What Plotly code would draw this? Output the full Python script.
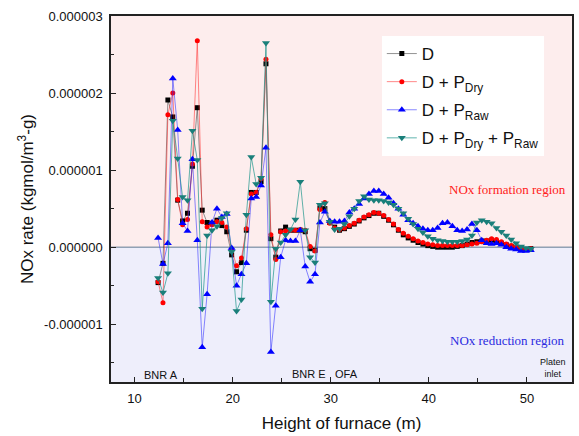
import plotly.graph_objects as go

# Height of furnace (m)
height_m = [12.4, 12.9, 13.4, 13.9, 14.4, 14.9, 15.4, 15.9, 16.4, 16.9,
            17.4, 17.9, 18.4, 18.9, 19.4, 19.9, 20.4, 20.9, 21.4, 21.9,
            22.4, 22.9, 23.4, 23.9, 24.4, 24.9, 25.4, 25.9, 26.4, 26.9,
            27.4, 27.9, 28.4, 28.9, 29.4, 29.9, 30.4, 30.9, 31.4, 31.9,
            32.4, 32.9, 33.4, 33.9, 34.4, 34.9, 35.4, 35.9, 36.4, 36.9,
            37.4, 37.9, 38.4, 38.9, 39.4, 39.9, 40.4, 40.9, 41.4, 41.9,
            42.4, 42.9, 43.4, 43.9, 44.4, 44.9, 45.4, 45.9, 46.4, 46.9,
            47.4, 47.9, 48.4, 48.9, 49.4, 49.9, 50.4]

# NOx rate values in units of 1e-6 kgmol/m3-g
D_e6 = [-0.46, -0.21, 1.91, 1.69, 0.61, 0.34, 0.44, 1.05, 1.81, 0.48,
        0.32, 0.31, 0.35, 0.28, 0.20, -0.10, -0.32, -0.20, 0.22, 0.71,
        0.71, 0.85, 2.38, 0.11, -0.13, 0.21, 0.26, 0.22, 0.22, 0.22,
        0.20, -0.02, -0.04, 0.51, 0.50, 0.32, 0.26, 0.22, 0.24, 0.27,
        0.30, 0.34, 0.38, 0.41, 0.44, 0.44, 0.40, 0.35, 0.29, 0.22,
        0.16, 0.12, 0.09, 0.06, 0.04, 0.02, 0.01, 0.00, 0.00, 0.00,
        0.00, 0.01, 0.02, 0.04, 0.06, 0.07, 0.08, 0.08, 0.09, 0.07,
        0.05, 0.03, 0.01, -0.01, -0.02, -0.03, -0.02]

D_Pdry_e6 = [-0.45, -0.72, 1.72, 2.00, 0.62, 0.29, 0.36, 1.08, 2.68, 0.33,
             0.26, 0.29, 0.33, 0.32, 0.26, -0.03, -0.24, -0.14, 0.24, 0.69,
             0.71, 0.89, 2.44, 0.16, -0.16, 0.20, 0.21, 0.22, 0.22, 0.23,
             0.22, 0.01, -0.05, 0.49, 0.58, 0.31, 0.25, 0.23, 0.25, 0.28,
             0.31, 0.35, 0.39, 0.42, 0.45, 0.44, 0.41, 0.36, 0.30, 0.23,
             0.18, 0.14, 0.11, 0.08, 0.06, 0.04, 0.03, 0.02, 0.02, 0.02,
             0.02, 0.02, 0.02, 0.03, 0.04, 0.05, 0.07, 0.09, 0.11, 0.10,
             0.07, 0.04, 0.02, 0.00, -0.02, -0.03, -0.02]

D_Praw_e6 = [0.12, -0.22, 0.05, 2.19, 1.52, 0.31, 0.21, 1.14, 0.09, -1.30,
             -0.61, 0.32, 0.50, 0.39, 0.43, -0.01, -0.50, -0.35, -0.21, 0.63,
             0.65, 0.80, 1.29, -1.36, -0.76, -0.13, 0.09, 0.08, 0.08, 0.22,
             -0.25, -0.45, -0.35, 0.32, 0.46, 0.34, 0.33, 0.33, 0.34, 0.45,
             0.50, 0.56, 0.63, 0.69, 0.73, 0.73, 0.69, 0.64, 0.57, 0.50,
             0.42, 0.35, 0.31, 0.27, 0.24, 0.22, 0.22, 0.25, 0.31, 0.32,
             0.27, 0.22, 0.21, 0.23, 0.30, 0.22, 0.09, 0.05, 0.04, 0.05,
             0.03, 0.00, -0.02, -0.03, -0.05, -0.05, -0.04]

D_Pdry_Praw_e6 = [-0.40, -0.59, -0.34, 1.64, 1.15, 0.65, 0.61, 1.51, 1.13, -0.80,
                  0.15, 0.22, 0.27, 0.38, 0.44, -0.06, -0.83, -0.68, 0.42, 1.17,
                  0.82, 0.90, 2.65, -0.71, -0.02, 0.06, 0.16, 0.23, 0.36, 0.85,
                  0.22, -0.13, -0.20, 0.55, 0.57, 0.33, 0.23, 0.24, 0.30, 0.40,
                  0.50, 0.60, 0.66, 0.62, 0.61, 0.61, 0.60, 0.58, 0.55, 0.50,
                  0.44, 0.37, 0.30, 0.24, 0.19, 0.14, 0.11, 0.09, 0.08, 0.07,
                  0.07, 0.07, 0.08, 0.10, 0.15, 0.32, 0.35, 0.33, 0.31, 0.25,
                  0.20, 0.15, 0.10, 0.05, 0.01, -0.01, -0.02]

series_names = ["D", "D + P<sub>Dry</sub>", "D + P<sub>Raw</sub>",
                "D + P<sub>Dry</sub> + P<sub>Raw</sub>"]

y_tick_vals = [-1e-6, 0.0, 1e-6, 2e-6, 3e-6]
y_tick_text = ["-0.000001", "0.000000", "0.000001", "0.000002", "0.000003"]
x_tick_vals = [10, 20, 30, 40, 50]

SCALE = 1e-6
series = [
    (series_names[0], D_e6, "#000000", "rgba(60,60,60,0.55)", "square", 5),
    (series_names[1], D_Pdry_e6, "#ff0000", "rgba(255,40,40,0.55)", "circle", 5),
    (series_names[2], D_Praw_e6, "#0000ff", "rgba(40,40,255,0.55)", "triangle-up", 7),
    (series_names[3], D_Pdry_Praw_e6, "#1a7f7a", "rgba(30,150,140,0.7)", "triangle-down", 7),
]

fig = go.Figure()
for i, (name, vals, mcol, lcol, sym, size) in enumerate(series):
    fig.add_trace(go.Scatter(
        x=height_m, y=[v * SCALE for v in vals], name=name, mode="lines+markers",
        legendgroup="g%d" % i,
        line=dict(color=lcol, width=1),
        marker=dict(color=mcol, symbol=sym, size=size, line=dict(width=0)),
    ))

YMIN, YMAX = -1.75e-6, 3.0e-6
fig.add_shape(type="rect", xref="paper", yref="y", x0=0, x1=1, y0=0, y1=YMAX,
              fillcolor="#fdeded", line=dict(width=0), layer="below")
fig.add_shape(type="rect", xref="paper", yref="y", x0=0, x1=1, y0=YMIN, y1=0,
              fillcolor="#eeeefb", line=dict(width=0), layer="below")
fig.add_shape(type="line", xref="paper", yref="y", x0=0, x1=1, y0=0, y1=0,
              line=dict(color="#5f7890", width=1), layer="below")

font_sans = "Arial, Liberation Sans, sans-serif"
font_serif = "Times New Roman, Liberation Serif, serif"

annos = [
    dict(x=509, y=189, text="NOx formation region", color="#ff2020", fam=font_serif, size=13),
    dict(x=509, y=340, text="NOx reduction region", color="#2a2ae0", fam=font_serif, size=13),
    dict(x=161, y=375, text="BNR A", color="#111111", fam=font_sans, size=11),
    dict(x=310, y=374, text="BNR E", color="#111111", fam=font_sans, size=11),
    dict(x=348, y=374, text="OFA", color="#111111", fam=font_sans, size=11),
    dict(x=555, y=368, text="Platen<br>inlet", color="#111111", fam=font_sans, size=9),
]
L, R, T, B = 111, 5, 16, 54
W, H = 579, 436
pw, ph = W - L - R, H - T - B
for a in annos:
    fig.add_annotation(
        xref="paper", yref="paper",
        x=(a["x"] - L) / pw, y=(H - B - a["y"]) / ph,
        text=a["text"], showarrow=False, xanchor="center", yanchor="middle",
        font=dict(family=a["fam"], size=a["size"], color=a["color"]),
    )

fig.update_layout(
    width=W, height=H,
    margin=dict(l=L, r=R, t=T, b=B),
    paper_bgcolor="white", plot_bgcolor="white",
    font=dict(family=font_sans, color="#111111"),
    showlegend=True,
    legend=dict(x=(383 - L) / pw, y=(H - B - 36) / ph, xanchor="left", yanchor="top",
                bgcolor="white", borderwidth=0, font=dict(size=17, family=font_sans),
                tracegroupgap=3, itemwidth=30),
    xaxis=dict(range=[7.6, 54.6], tickvals=x_tick_vals, ticks="inside", ticklen=5,
               tickwidth=1, tickcolor="#222", showline=True, linecolor="#222",
               linewidth=1.5, mirror=True, showgrid=False, zeroline=False,
               tickfont=dict(size=13), ticklabelstandoff=4,
               minor=dict(tickmode="linear", tick0=0, dtick=5, ticks="inside",
                          ticklen=4, tickcolor="#222", showgrid=False),
               title=dict(text="Height of furnace (m)", font=dict(size=17), standoff=12)),
    yaxis=dict(range=[YMIN, YMAX], tickvals=y_tick_vals, ticktext=y_tick_text,
               ticks="inside", ticklen=5, tickwidth=1, tickcolor="#222",
               showline=True, linecolor="#222", linewidth=1.5, mirror=True,
               showgrid=False, zeroline=False, tickfont=dict(size=13),
               ticklabelstandoff=4,
               minor=dict(tickmode="linear", tick0=0, dtick=0.5e-6, ticks="inside",
                          ticklen=3, tickcolor="#222", showgrid=False),
               title=dict(text="NOx rate (kgmol/m<sup>3</sup>-g)", font=dict(size=17),
                          standoff=6)),
)

fig.write_html("out.html")
